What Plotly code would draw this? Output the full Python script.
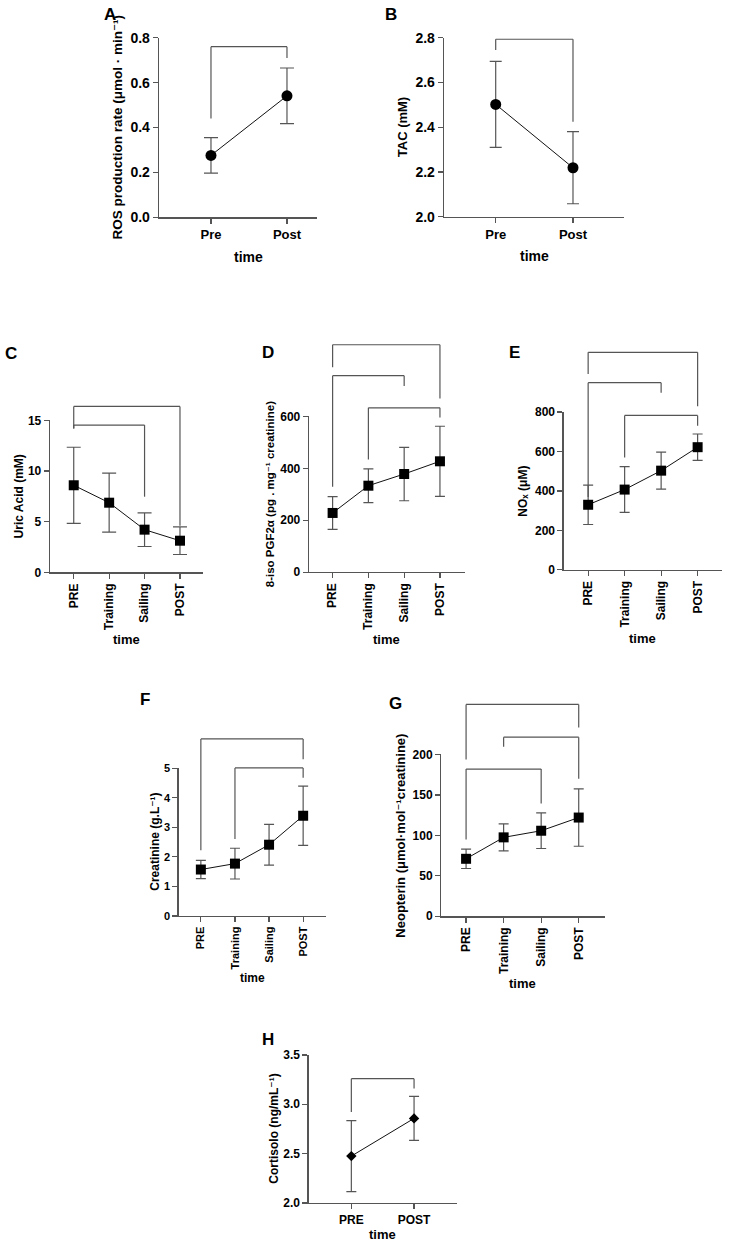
import plotly.graph_objects as go

W, H = 738, 1253

# ---------------- data ----------------
cats_2 = ["Pre", "Post"]
cats_2u = ["PRE", "POST"]
cats_4 = ["PRE", "Training", "Sailing", "POST"]

ros_mean = [0.276, 0.541]
ros_sd = [0.079, 0.124]

tac_mean = [2.502, 2.219]
tac_sd = [0.192, 0.161]

uric_mean = [8.60, 6.88, 4.22, 3.13]
uric_sd = [3.75, 2.91, 1.66, 1.36]

iso_mean = [228, 333, 378, 427]
iso_sd = [63, 65, 103, 135]

nox_mean = [330, 407, 503, 622]
nox_sd = [100, 116, 94, 67]

creat_mean = [1.57, 1.77, 2.41, 3.39]
creat_sd = [0.31, 0.52, 0.69, 1.00]

neop_mean = [71.0, 97.5, 105.7, 122.0]
neop_sd = [12.0, 16.7, 22.0, 35.5]

cort_mean = [2.475, 2.857]
cort_sd = [0.360, 0.223]

# brackets: (from index, to index, top value, left leg end, right leg end)
br_A = [(0, 1, 0.76, 0.44, 0.71)]
br_B = [(0, 1, 2.793, 2.745, 2.425)]
br_C = [(0, 3, 16.38, 14.2, 4.6), (0, 2, 14.54, 14.2, 7.47)]
br_D = [(0, 3, 876, 789, 669), (0, 2, 757, 329, 717), (1, 3, 633, 434, 596)]
br_E = [(0, 3, 1103, 993, 830), (0, 2, 949, 370, 898), (1, 3, 783, 570, 731)]
br_F = [(0, 3, 5.99, 2.22, 5.30), (1, 3, 5.01, 2.60, 4.68)]
br_G = [(0, 3, 261.9, 193.8, 233.4), (1, 3, 221.4, 209.5, 169.9), (0, 2, 181.9, 94.8, 139.4)]
br_H = [(0, 1, 3.26, 2.922, 3.159)]

# ---------------- panel definitions ----------------
panels = [
    dict(letter="A", cats=cats_2, mean=ros_mean, sd=ros_sd, br=br_A,
         ytitle="ROS production rate (μmol · min⁻¹)",
         yticks=[0.0, 0.2, 0.4, 0.6, 0.8], fmt=".1f", yrange=[0, 0.8],
         symbol="circle", msize=11, cap=7,
         xpx=(159, 317), ypx=(217.3, 37.7), xrange=[-0.684, 1.395], angle=0,
         tfs=13, yfs=13.5, xfs=14, yoff=41, xoff=39, letter_px=(110, 7)),
    dict(letter="B", cats=cats_2, mean=tac_mean, sd=tac_sd, br=br_B,
         ytitle="TAC (mM)",
         yticks=[2.0, 2.2, 2.4, 2.6, 2.8], fmt=".1f", yrange=[2.0, 2.8],
         symbol="circle", msize=11, cap=6,
         xpx=(444, 624), ypx=(216.7, 37.7), xrange=[-0.669, 1.66], angle=0,
         tfs=13, yfs=13, xfs=14, yoff=42, xoff=39, letter_px=(391, 7)),
    dict(letter="C", cats=cats_4, mean=uric_mean, sd=uric_sd, br=br_C,
         ytitle="Uric Acid (mM)",
         yticks=[0, 5, 10, 15], fmt="d", yrange=[0, 15],
         symbol="square", msize=10, cap=7,
         xpx=(50, 203), ypx=(572.3, 420.3), xrange=[-0.67, 3.65], angle=-90,
         tfs=12, yfs=12, xfs=13, yoff=31, xoff=66, letter_px=(11, 353)),
    dict(letter="D", cats=cats_4, mean=iso_mean, sd=iso_sd, br=br_D,
         ytitle="8-iso PGF2α (pg . mg⁻¹ creatinine)",
         yticks=[0, 200, 400, 600], fmt="d", yrange=[0, 600],
         symbol="square", msize=10, cap=5,
         xpx=(309, 465), ypx=(572, 416.3), xrange=[-0.66, 3.70], angle=-90,
         tfs=12, yfs=11.5, xfs=13, yoff=39, xoff=66, letter_px=(268, 352)),
    dict(letter="E", cats=cats_4, mean=nox_mean, sd=nox_sd, br=br_E,
         ytitle="NOₓ (μM)",
         yticks=[0, 200, 400, 600, 800], fmt="d", yrange=[0, 800],
         symbol="square", msize=10, cap=5,
         xpx=(563.7, 721.7), ypx=(569.7, 412), xrange=[-0.67, 3.66], angle=-90,
         tfs=12, yfs=12, xfs=13, yoff=41, xoff=68, letter_px=(514, 352)),
    dict(letter="F", cats=cats_4, mean=creat_mean, sd=creat_sd, br=br_F,
         ytitle="Creatinine (g.L⁻¹)",
         yticks=[0, 1, 2, 3, 4, 5], fmt="d", yrange=[0, 5],
         symbol="square", msize=10, cap=5,
         xpx=(178.7, 326), ypx=(915.7, 768), xrange=[-0.65, 3.67], angle=-90,
         tfs=11, yfs=12, xfs=12, yoff=24, xoff=61, letter_px=(145, 699)),
    dict(letter="G", cats=cats_4, mean=neop_mean, sd=neop_sd, br=br_G,
         ytitle="Neopterin (μmol·mol⁻¹creatinine)",
         yticks=[0, 50, 100, 150, 200], fmt="d", yrange=[0, 200],
         symbol="square", msize=10, cap=5,
         xpx=(441.3, 605), ypx=(916, 754.3), xrange=[-0.66, 3.70], angle=-90,
         tfs=12, yfs=13, xfs=13, yoff=41, xoff=66, letter_px=(395, 703)),
    dict(letter="H", cats=cats_2u, mean=cort_mean, sd=cort_sd, br=br_H,
         ytitle="Cortisolo (ng/mL⁻¹)",
         yticks=[2.0, 2.5, 3.0, 3.5], fmt=".1f", yrange=[2.0, 3.5],
         symbol="diamond", msize=8, cap=5,
         xpx=(308.7, 456.7), ypx=(1202.7, 1054.7), xrange=[-0.68, 1.68], angle=0,
         tfs=12, yfs=12, xfs=13, yoff=35, xoff=31, letter_px=(268, 1039)),
]

FONT = "Liberation Sans, Arial, Helvetica, DejaVu Sans, sans-serif"
AX = "#555555"
BR = "#555555"

# the captured page sits ~8px lower and ~1.3% shorter than the figure;
# map target page-pixel rows to figure rows
Y_OFF, Y_SCALE = 8.0, 0.987


def fig_row(py):
    return (py - Y_OFF) / Y_SCALE


fig = go.Figure()
shapes = []
annotations = []
layout = {}

for k, p in enumerate(panels, start=1):
    sfx = "" if k == 1 else str(k)
    xa, ya = "x" + sfx, "y" + sfx
    n = len(p["cats"])
    idx = list(range(n))
    fig.add_trace(go.Scatter(
        x=idx, y=p["mean"], xaxis=xa, yaxis=ya, mode="lines+markers",
        line=dict(color="#111111", width=1),
        marker=dict(symbol=p["symbol"], size=p["msize"], color="black"),
        error_y=dict(type="data", array=p["sd"], visible=True,
                     color=AX, thickness=1.2, width=p["cap"]),
        cliponaxis=False, showlegend=False, hoverinfo="skip"))

    x0px, x1px = p["xpx"]
    y0px, y1px = p["ypx"]
    layout["xaxis" + sfx] = dict(
        domain=[x0px / W, x1px / W], anchor=ya, range=p["xrange"],
        tickmode="array", tickvals=idx, ticktext=p["cats"], tickangle=p["angle"],
        showline=True, linecolor=AX, linewidth=1.3, ticks="outside", ticklen=5,
        tickwidth=1.2, tickcolor=AX, showgrid=False, zeroline=False,
        tickfont=dict(family=FONT, size=p["tfs"], color="black", weight="bold"),
        fixedrange=True)
    layout["yaxis" + sfx] = dict(
        domain=[1 - fig_row(y0px) / H, 1 - fig_row(y1px) / H], anchor=xa, range=p["yrange"],
        tickmode="array", tickvals=p["yticks"], tickformat=p["fmt"],
        showline=True, linecolor=AX, linewidth=1.3, ticks="outside", ticklen=5,
        tickwidth=1.2, tickcolor=AX, showgrid=False, zeroline=False,
        tickfont=dict(family=FONT, size=p["tfs"] + (1 if k <= 2 else 0), color="black", weight="bold"),
        fixedrange=True)

    # significance brackets
    lo, hi = p["yrange"]
    fr = lambda v: (v - lo) / (hi - lo)
    for (i, j, top, yl, yr) in p["br"]:
        common = dict(type="line", xref=xa, yref=ya + " domain",
                      line=dict(color=BR, width=1.2), layer="above")
        shapes.append(dict(x0=i, x1=i, y0=fr(yl), y1=fr(top), **common))
        shapes.append(dict(x0=i, x1=j, y0=fr(top), y1=fr(top), **common))
        shapes.append(dict(x0=j, x1=j, y0=fr(top), y1=fr(yr), **common))

    # axis titles
    annotations.append(dict(
        text=p["ytitle"], xref=xa + " domain", x=0, xshift=-p["yoff"],
        yref=ya + " domain", y=0.5, textangle=-90, showarrow=False,
        xanchor="center", yanchor="middle",
        font=dict(family=FONT, size=p["yfs"], color="black", weight="bold")))
    annotations.append(dict(
        text="time", xref=xa, x=(n - 1) / 2, yref=ya + " domain", y=0,
        yshift=-p["xoff"] / Y_SCALE, showarrow=False, xanchor="center", yanchor="middle",
        font=dict(family=FONT, size=p["xfs"], color="black", weight="bold")))
    # panel letter
    lx, ly = p["letter_px"]
    ly_fig = max(7.0, fig_row(ly))
    annotations.append(dict(
        text=p["letter"], xref="paper", yref="paper", x=lx / W, y=1 - ly_fig / H,
        showarrow=False, xanchor="center", yanchor="middle",
        font=dict(family=FONT, size=17, color="black", weight="bold")))

fig.update_layout(
    width=W, height=H, margin=dict(l=0, r=0, t=0, b=0),
    paper_bgcolor="white", plot_bgcolor="white",
    shapes=shapes, annotations=annotations, **layout)

fig.write_html(
    "out.html",
    config={"displayModeBar": False, "staticPlot": True},
    post_script="document.body.style.margin='0';document.body.style.padding='0';"
                "document.documentElement.style.overflow='hidden';")
